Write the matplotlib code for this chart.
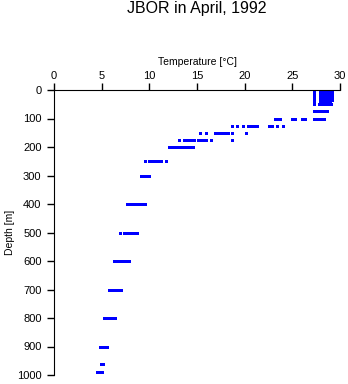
import numpy as np
import matplotlib.pyplot as plt

plt.rcParams['font.family'] = ['Liberation Sans', 'DejaVu Sans']

# temperature readings (deg C) at each sampled depth (m)
mixed = [27.3, 27.9, 28.1, 28.3, 28.5, 28.7, 28.9, 29.1, 29.2]
t_000 = mixed
t_005 = mixed
t_010 = mixed
t_015 = mixed
t_020 = mixed
t_025 = mixed
t_030 = mixed
t_035 = mixed
t_040 = [27.3, 27.9, 28.1, 28.3, 28.5, 28.7, 28.9, 29.0]
t_050 = [27.3, 27.8, 28.0, 28.2, 28.4, 28.6, 28.8, 29.0, 29.1]
t_075 = [27.3, 27.5, 27.7, 27.9, 28.1, 28.3, 28.5, 28.6]
t_100 = [23.2, 23.5, 23.7, 25.0, 25.3, 26.0, 26.3,
         27.3, 27.5, 27.7, 27.9, 28.1, 28.3]
t_125 = [18.7, 19.2, 19.8, 20.3, 20.5, 20.7, 20.9, 21.1, 21.3,
         22.5, 22.7, 22.9, 23.4, 24.0]
t_150 = [15.3, 15.9, 16.9, 17.1, 17.3, 17.5, 17.7, 17.9, 18.1, 18.3,
         18.7, 20.1]
t_175 = [13.1, 13.6, 14.0, 14.2, 14.4, 14.7, 15.1, 15.3, 15.5, 15.7, 15.9,
         16.5, 18.7]
t_200 = [12.1, 12.3, 12.5, 12.7, 12.9, 13.1, 13.3, 13.5, 13.7, 13.9, 14.1,
         14.3, 14.6]
t_250 = [9.5, 10.0, 10.2, 10.4, 10.6, 10.8, 11.0, 11.2, 11.7]
t_300 = [9.1, 9.3, 9.5, 9.7, 9.9, 10.0]
t_400 = [7.7, 7.9, 8.1, 8.3, 8.5, 8.7, 8.9, 9.1, 9.3, 9.5]
t_500 = [6.9, 7.3, 7.5, 7.7, 7.9, 8.1, 8.3, 8.5, 8.75]
t_600 = [6.3, 6.5, 6.7, 6.9, 7.1, 7.3, 7.5, 7.7, 7.9]
t_700 = [5.8, 6.0, 6.2, 6.4, 6.6, 6.8, 7.0]
t_800 = [5.2, 5.4, 5.6, 5.8, 6.0, 6.2, 6.4]
t_900 = [4.8, 5.0, 5.2, 5.4, 5.6]
t_960 = [4.95, 5.15]
t_990 = [4.5, 4.7, 4.9, 5.0]

depths = [0, 5, 10, 15, 20, 25, 30, 35, 40, 50, 75, 100, 125, 150, 175,
          200, 250, 300, 400, 500, 600, 700, 800, 900, 960, 990]
temps = [t_000, t_005, t_010, t_015, t_020, t_025, t_030, t_035, t_040,
         t_050, t_075, t_100, t_125, t_150, t_175, t_200, t_250, t_300,
         t_400, t_500, t_600, t_700, t_800, t_900, t_960, t_990]

x = np.concatenate([np.array(t) for t in temps])
y = np.concatenate([np.full(len(t), d) for t, d in zip(temps, depths)])

fig = plt.figure(figsize=(3.48, 3.84), dpi=100)
ax = fig.add_axes([54/348, 1 - 375/384, 286/348, 285/384])

ax.plot(x, y, linestyle='none', marker='s', markersize=2.16,
        color='#0000ff', markeredgewidth=0, antialiased=False)

ax.set_xlim(0, 30)
ax.set_ylim(1000, 0)
ax.set_xticks([0, 5, 10, 15, 20, 25, 30])
ax.set_yticks(np.arange(0, 1001, 100))
ax.xaxis.tick_top()
ax.xaxis.set_label_position('top')
ax.spines['right'].set_visible(False)
ax.spines['bottom'].set_visible(False)
ax.tick_params(direction='out', length=5, width=1, labelsize=8, pad=4)
ax.tick_params(axis='x', pad=1.5)
ax.set_xlabel('Temperature [°C]', fontsize=7.5, labelpad=4)
ax.set_ylabel('Depth [m]', fontsize=7.5, labelpad=1)

fig.text(197/348, 1 - 9/384, 'JBOR in April, 1992', ha='center',
         va='center', fontsize=11.5)

fig.savefig('out.png', dpi=100)
